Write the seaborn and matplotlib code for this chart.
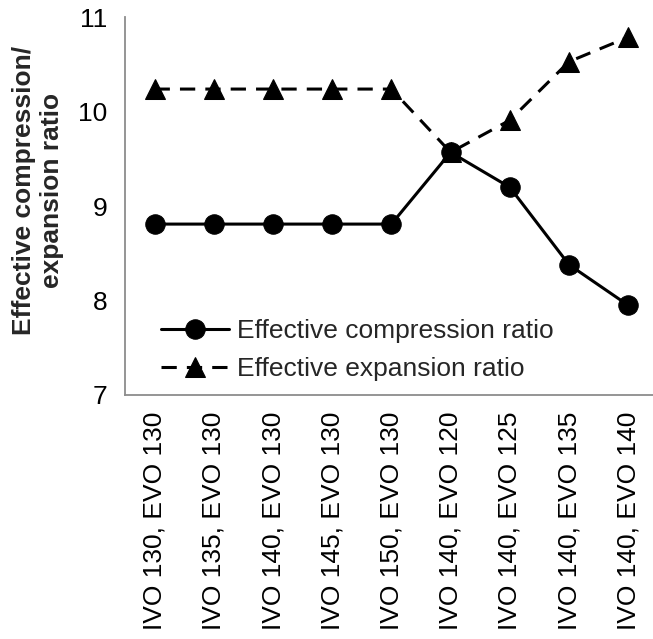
import matplotlib
matplotlib.use("Agg")
import matplotlib.pyplot as plt
import seaborn as sns
import pandas as pd
from matplotlib.ticker import FixedLocator

categories = ["IVO 130, EVO 130", "IVO 135, EVO 130", "IVO 140, EVO 130",
              "IVO 145, EVO 130", "IVO 150, EVO 130", "IVO 140, EVO 120",
              "IVO 140, EVO 125", "IVO 140, EVO 135", "IVO 140, EVO 140"]
compression = [8.81, 8.81, 8.81, 8.81, 8.81, 9.57, 9.20, 8.38, 7.95]
expansion = [10.24, 10.24, 10.24, 10.24, 10.24, 9.57, 9.91, 10.53, 10.79]
y_ticks = [7, 8, 9, 10, 11]

sns.set_theme(style="white")
plt.rcParams['font.family'] = ['Liberation Sans', 'DejaVu Sans']

W, H = 653, 639
fig = plt.figure(figsize=(W / 100, H / 100), dpi=100)
left, right, top, bottom = 125, 125 + 9 * 59.2, 17.3, 395
ax = fig.add_axes([left / W, 1 - bottom / H, (right - left) / W, (bottom - top) / H])

df = pd.DataFrame({"x": categories, "comp": compression, "exp": expansion})
sns.lineplot(data=df, x="x", y="comp", sort=False, ax=ax, color="black",
             linewidth=2.2, marker="o", markersize=14, markeredgecolor="black",
             label="Effective compression ratio")
sns.lineplot(data=df, x="x", y="exp", sort=False, ax=ax, color="black",
             linewidth=2.2, marker="^", markersize=14, markeredgecolor="black",
             linestyle=(0, (5, 3.3)), label="Effective expansion ratio")

ax.set_xlim(-0.5, len(categories) - 0.5)
ax.set_ylim(7, 11)
ax.set_yticks(y_ticks)
ax.set_yticklabels([str(t) for t in y_ticks], fontsize=19)
ax.set_xticks(range(len(categories)))
ax.set_xticklabels(categories, rotation=90, fontsize=19)
ax.xaxis.set_minor_locator(FixedLocator([i - 0.5 for i in range(len(categories) + 1)]))
gray = "#8c8c8c"
ax.tick_params(axis="x", which="major", length=0, pad=12, colors="black")
ax.tick_params(axis="x", which="minor", length=8, width=1.3, color=gray, direction="out")
ax.tick_params(axis="y", which="major", length=5.5, width=1.3, color=gray, direction="out",
               pad=7, labelcolor="black")
ax.set_xlabel("")
for s in ["top", "right"]:
    ax.spines[s].set_visible(False)
for s in ["left", "bottom"]:
    ax.spines[s].set_color(gray)
    ax.spines[s].set_linewidth(1.3)

ax.set_ylabel("Effective compression/\nexpansion ratio", fontsize=19, fontweight="bold",
              multialignment="center", linespacing=1.25)
ax.yaxis.label.set_va("center")
ax.yaxis.label.set_rotation_mode("default")
ax.yaxis.set_label_coords((38 - left) / (right - left), 1 - (190 - top) / (bottom - top))

leg = ax.legend(loc="center left", bbox_to_anchor=(160.6 / W, 1 - 350 / H),
                bbox_transform=fig.transFigure, frameon=False, fontsize=19,
                handlelength=2.58, handletextpad=0.3, borderpad=0, borderaxespad=0,
                labelspacing=0.55)

fig.savefig("out.png", dpi=100)
